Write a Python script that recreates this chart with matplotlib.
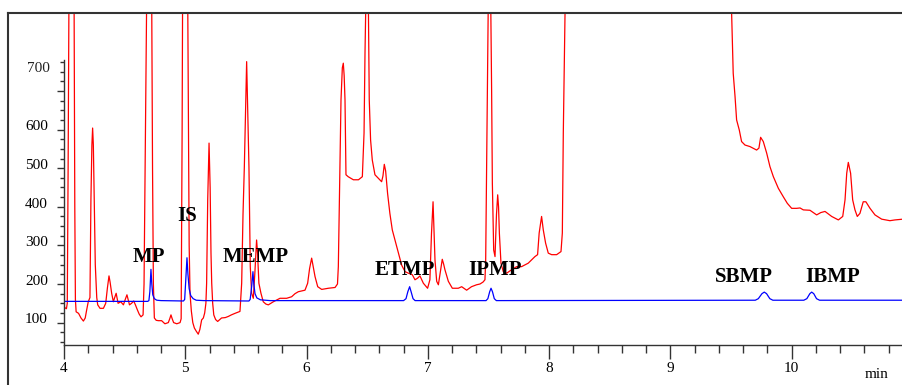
import matplotlib
matplotlib.use('Agg')
import matplotlib.pyplot as plt
import matplotlib.transforms as mtransforms
from matplotlib.lines import Line2D
import numpy as np

plt.rcParams['font.family'] = ['Liberation Serif', 'DejaVu Serif']

# red trace (time in min, signal)
red_trace = [
    (4.000, 141), (4.010, 138), (4.020, 136), (4.027, 150), (4.034, 500), (4.041, 950),
    (4.060, 1500), (4.083, 950), (4.089, 400), (4.094, 160), (4.100, 128), (4.120, 124),
    (4.140, 112), (4.160, 104), (4.175, 112), (4.187, 133), (4.200, 154), (4.214, 165),
    (4.222, 418), (4.230, 560), (4.236, 604), (4.242, 560), (4.249, 418), (4.258, 250),
    (4.270, 165), (4.278, 146), (4.297, 137), (4.325, 137), (4.344, 150), (4.358, 190),
    (4.371, 221), (4.380, 205), (4.393, 176), (4.407, 154), (4.418, 165), (4.430, 176),
    (4.446, 150), (4.468, 154), (4.490, 146), (4.505, 160), (4.519, 172), (4.530, 158),
    (4.540, 146), (4.557, 150), (4.575, 156), (4.590, 145), (4.605, 133), (4.620, 122),
    (4.635, 115), (4.652, 120), (4.660, 200), (4.672, 600), (4.682, 950), (4.700, 1500),
    (4.723, 950), (4.730, 500), (4.737, 200), (4.745, 112), (4.760, 106), (4.778, 105),
    (4.805, 105), (4.832, 97), (4.860, 100), (4.872, 110), (4.882, 120), (4.892, 110),
    (4.904, 100), (4.930, 97), (4.957, 100), (4.966, 110), (4.974, 600), (4.978, 950),
    (5.000, 1500), (5.020, 950), (5.026, 600), (5.032, 300), (5.039, 176), (5.050, 130),
    (5.062, 100), (5.075, 86), (5.090, 78), (5.107, 70), (5.120, 82), (5.135, 107),
    (5.149, 112), (5.160, 125), (5.170, 150), (5.176, 202), (5.185, 418), (5.196, 565),
    (5.205, 450), (5.212, 280), (5.218, 202), (5.226, 150), (5.235, 120), (5.250, 108),
    (5.267, 103), (5.299, 112), (5.330, 113), (5.355, 116), (5.380, 120), (5.410, 124),
    (5.451, 129), (5.465, 202), (5.476, 380), (5.487, 504), (5.506, 776), (5.515, 650),
    (5.525, 504), (5.536, 245), (5.547, 176), (5.561, 163), (5.574, 230), (5.588, 314),
    (5.596, 280), (5.607, 202), (5.624, 176), (5.643, 154), (5.665, 148), (5.685, 146),
    (5.726, 154), (5.781, 163), (5.836, 163), (5.877, 167), (5.905, 175), (5.932, 180),
    (5.960, 182), (5.987, 184), (6.009, 202), (6.025, 240), (6.042, 267), (6.055, 245),
    (6.070, 219), (6.092, 193), (6.125, 186), (6.180, 189), (6.235, 191), (6.255, 200),
    (6.262, 245), (6.270, 400), (6.276, 504), (6.284, 677), (6.295, 760), (6.303, 772),
    (6.310, 740), (6.317, 677), (6.325, 483), (6.343, 478), (6.386, 470), (6.428, 470),
    (6.460, 478), (6.474, 591), (6.482, 800), (6.490, 950), (6.500, 1300), (6.509, 950),
    (6.517, 677), (6.528, 573), (6.542, 521), (6.564, 483), (6.592, 474), (6.619, 465),
    (6.630, 480), (6.641, 510), (6.652, 493), (6.668, 435), (6.687, 383), (6.707, 340),
    (6.729, 314), (6.757, 280), (6.784, 249), (6.812, 232), (6.840, 228), (6.872, 224),
    (6.894, 211), (6.915, 215), (6.935, 221), (6.963, 202), (6.998, 189), (7.017, 211),
    (7.030, 330), (7.043, 413), (7.052, 330), (7.059, 262), (7.073, 207), (7.087, 198),
    (7.105, 235), (7.119, 264), (7.130, 252), (7.141, 237), (7.169, 207), (7.202, 189),
    (7.251, 189), (7.279, 193), (7.320, 184), (7.360, 193), (7.402, 198), (7.430, 200),
    (7.455, 205), (7.471, 211), (7.477, 262), (7.488, 600), (7.499, 950), (7.508, 1300),
    (7.518, 950), (7.526, 700), (7.532, 461), (7.543, 288), (7.554, 271), (7.566, 380),
    (7.576, 431), (7.583, 400), (7.590, 331), (7.603, 254), (7.622, 232), (7.650, 228),
    (7.691, 237), (7.732, 245), (7.773, 245), (7.828, 254), (7.883, 271), (7.905, 276),
    (7.918, 332), (7.938, 375), (7.952, 340), (7.971, 306), (7.993, 280), (8.021, 276),
    (8.062, 276), (8.098, 284), (8.109, 332), (8.117, 591), (8.131, 897), (8.150, 1300),
    (8.500, 2000), (9.000, 2000), (9.450, 1300), (9.505, 900), (9.510, 841), (9.518, 746),
    (9.533, 686), (9.546, 625), (9.568, 599), (9.587, 569), (9.615, 560), (9.656, 556),
    (9.711, 547), (9.730, 552), (9.744, 580), (9.766, 569), (9.794, 539), (9.821, 504),
    (9.849, 478), (9.890, 448), (9.931, 426), (9.964, 409), (10.000, 396), (10.041, 396),
    (10.069, 397), (10.096, 392), (10.151, 391), (10.206, 379), (10.240, 385), (10.275, 388),
    (10.330, 375), (10.385, 366), (10.421, 375), (10.440, 418), (10.454, 487), (10.467, 515),
    (10.486, 487), (10.503, 418), (10.522, 392), (10.541, 375), (10.563, 383), (10.590, 413),
    (10.612, 413), (10.646, 396), (10.687, 379), (10.742, 368), (10.810, 364), (10.852, 366),
    (10.918, 368),
]

# blue trace (standards)
blue_trace = [
    (4.000, 155), (4.690, 155), (4.700, 157), (4.708, 180), (4.717, 238), (4.724, 200),
    (4.732, 172), (4.745, 162), (4.765, 158), (4.800, 157), (4.985, 156), (4.995, 160),
    (5.004, 210), (5.014, 268), (5.022, 225), (5.032, 188), (5.045, 170), (5.065, 162),
    (5.090, 158), (5.150, 157), (5.525, 156), (5.535, 160), (5.548, 195), (5.558, 232),
    (5.565, 200), (5.575, 175), (5.590, 164), (5.620, 159), (5.700, 157), (6.800, 157),
    (6.820, 162), (6.835, 180), (6.850, 193), (6.862, 180), (6.878, 162), (6.895, 157),
    (7.480, 157), (7.495, 162), (7.510, 180), (7.521, 189), (7.533, 180), (7.548, 162),
    (7.565, 157), (9.700, 158), (9.725, 162), (9.755, 175), (9.774, 179), (9.793, 175),
    (9.820, 162), (9.845, 158), (10.100, 158), (10.125, 162), (10.150, 175), (10.165, 179),
    (10.182, 175), (10.205, 162), (10.230, 158), (10.918, 158),
]

peak_names = ['MP', 'IS', 'MEMP', 'ETMP', 'IPMP', 'SBMP', 'IBMP']
label_times = [4.70, 5.019, 5.583, 6.808, 7.554, 9.607, 10.338]
label_levels = [257, 364, 257, 224, 224, 206, 206]

y_labels = [100, 200, 300, 400, 500, 600, 700]

fig = plt.figure(figsize=(9.03, 3.85), dpi=100)
ax = fig.add_axes([64/903, 40/385, 839/903, 332/385])

rt, rv = np.array(red_trace).T
bt, bv = np.array(blue_trace).T
ax.plot(rt, rv, color='#ff0000', lw=0.9)
ax.plot(bt, bv, color='#0000ff', lw=0.9)

for name, t, v in zip(peak_names, label_times, label_levels):
    ax.text(t, v, name, ha='center', va='baseline', fontsize=15, fontweight='bold')

ax.set_xlim(4, 10.918)
ax.set_ylim(42, 902)

for s in ['top', 'right']:
    ax.spines[s].set_visible(False)
for s in ['left', 'bottom']:
    ax.spines[s].set_color('#333333')
    ax.spines[s].set_linewidth(1.0)
ax.spines['left'].set_bounds(42, 780)

ax.set_xticks(np.arange(4, 11))
ax.set_xticks(np.arange(4, 10.95, 0.2), minor=True)
ax.set_yticks(y_labels)
ax.set_yticklabels([str(v) for v in y_labels[:-1]] + [''])
ax.set_yticks(np.arange(50, 780, 25), minor=True)

ax.tick_params(axis='x', which='major', length=10, width=1, color='#333333',
               labelsize=11, pad=2)
ax.tick_params(axis='x', which='minor', length=6, width=1, color='#333333')
ax.tick_params(axis='y', which='major', length=5, width=1, color='#333333',
               labelsize=11, pad=6.5)
ax.tick_params(axis='y', which='minor', length=3, width=1, color='#333333')

shift = mtransforms.ScaledTranslation(0, 3/72, fig.dpi_scale_trans)
for lab in ax.get_yticklabels():
    lab.set_transform(lab.get_transform() + shift)

# the 700 label sits higher than its tick in the original
ax.text(-0.0167, 757, '700', transform=ax.get_yaxis_transform(), ha='right',
        va='center', fontsize=11, color='#222222')

fig.text(877/903, 1 - 375/385, 'min', ha='center', va='center', fontsize=11)

# outer frame: left and top edges
fig.add_artist(Line2D([8/903, 8/903], [0, 1 - 13/385], color='#333333', lw=1.5))
fig.add_artist(Line2D([8/903, 1], [1 - 13/385, 1 - 13/385], color='#333333', lw=1.5))

fig.savefig('out.png', dpi=100)
